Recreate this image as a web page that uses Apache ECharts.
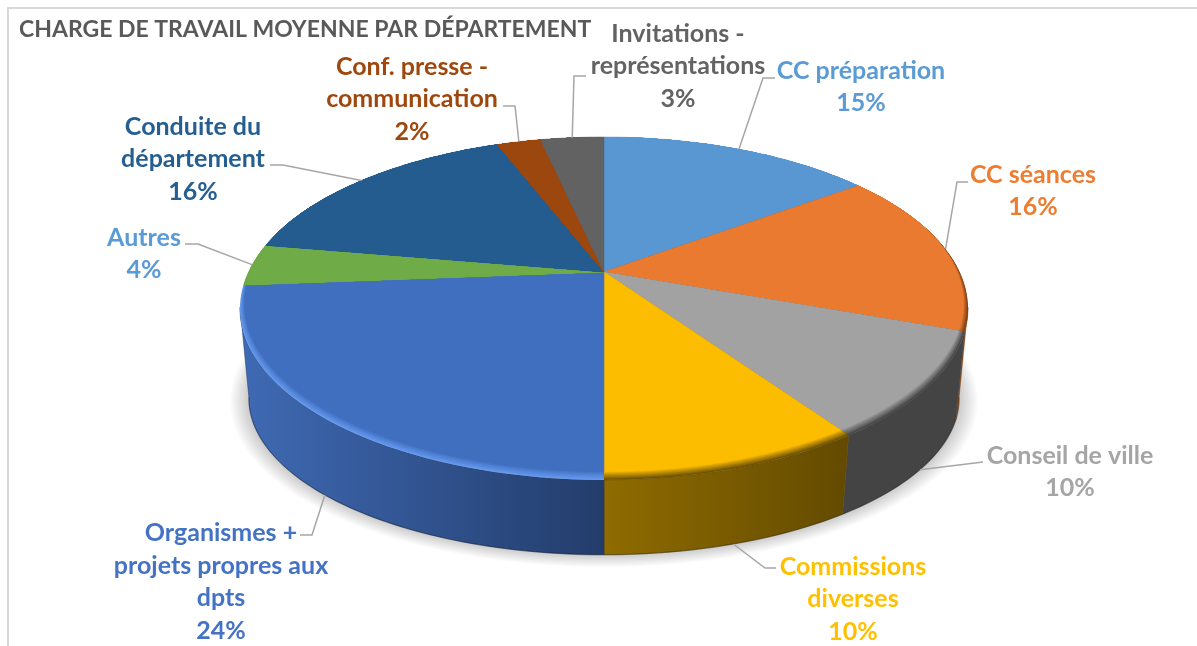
<!DOCTYPE html>
<html>
<head>
<meta charset="utf-8">
<title>Charge de travail moyenne par département</title>
<script src="https://cdn.jsdelivr.net/npm/echarts@6/dist/echarts.min.js"></script>
<style>
  html, body { margin: 0; padding: 0; background: #fff; }
  #chart { width: 1197px; height: 646px; }
</style>
</head>
<body>
<div id="chart"></div>
<script>
var chartTitle = 'CHARGE DE TRAVAIL MOYENNE PAR DÉPARTEMENT';
var categories = ['CC préparation', 'CC séances', 'Conseil de ville', 'Commissions\ndiverses',
  'Organismes +\nprojets propres aux\ndpts', 'Autres', 'Conduite du\ndépartement',
  'Conf. presse -\ncommunication', 'Invitations -\nreprésentations'];
// shares, the labels show them rounded
var values = [14.9, 15.6, 9.9, 9.6, 23.75, 3.95, 16.45, 2.4, 3.45];

var topColors = ['#5997d3', '#e97a2f', '#a2a2a2', '#fcbd00', '#416fbf', '#6fab46', '#255c8f', '#9c470e', '#626262'];
var labelColors = ['#5b9bd5', '#ed7d31', '#a5a5a5', '#ffc000', '#4472c4', '#5b9bd5', '#255e91', '#9e480e', '#636363'];
var rimColors = ['#5997d3', '#7a3f14', '#444444', '#6b5000', '#659af0', '#6fab46', '#255c8f', '#9c470e', '#626262'];
var wallFrom = ['#3a6a95', '#8a4a1a', '#444444', '#8f6c00', '#3f6ab4', '#4a7a30', '#1c4a70', '#6e320a', '#444444'];
var wallTo = ['#3a6a95', '#8a4a1a', '#444444', '#634a00', '#233c6b', '#4a7a30', '#1c4a70', '#6e320a', '#444444'];
// label centre, elbow of the leader line, and which rim the line lands on
var labelPos = [[861, 87], [1033, 191], [1070, 472], [853, 599], [221, 582], [144, 254], [193, 159], [412, 99], [678, 66]];
var elbows = [[[775, 78], [763, 78]], [[968, 182], [957, 182]], [[983, 462]], [[776, 568], [765, 568]],
  [[300, 535], [312, 535]], [[185, 244], [198, 244]], [[270, 165], [283, 165]], [[503, 106], [515, 106]], [[586, 76], [574, 76]]];
var onBottomRim = [false, false, true, true, true, false, false, false, false];

// perspective of the disc
var CX = 604, TOP_Y = 272, BOTTOM_Y = 365, P = 0.2126;
var TOP_A = 163.7, TOP_B = 355.7, BOTTOM_A = 149.4, BOTTOM_B = 347;
// the side wall only shows between the two tangents of the outline
var WALL_FROM = 28.3, WALL_TO = 71.7;

function project(share, r, bottom){
  var a = share / 100 * Math.PI * 2;
  var u = Math.sin(a) * r, v = Math.cos(a) * r, w = 1 + P * v;
  return [CX + (bottom ? BOTTOM_B : TOP_B) * u / w, (bottom ? BOTTOM_Y : TOP_Y) - (bottom ? BOTTOM_A : TOP_A) * v / w];
}
function arc(from, to, r, bottom){
  var pts = [], n = Math.max(4, Math.ceil((to - from) * 3));
  for(var i = 0; i <= n; i++){
    pts.push(project(from + (to - from) * i / n, r, bottom));
  }
  return pts;
}
// how much of the rounded edge shows at this angle
function bevelAt(share){
  var v = Math.cos(share / 100 * Math.PI * 2);
  return Math.max(0, Math.min(1, (0.3 - v) / 1.3));
}
function hex(c){ return [1, 3, 5].map(function(i){ return parseInt(c.substr(i, 2), 16); }); }
function mix(c1, c2, t){
  var a = hex(c1), b = hex(c2);
  return 'rgb(' + a.map(function(x, i){ return Math.round(x + (b[i] - x) * t); }).join(',') + ')';
}

var starts = [], sum = 0;
values.forEach(function(v){ starts.push(sum); sum += v; });
var total = sum;
function shareOf(i){ return values[i] / total * 100; }
function startOf(i){ return starts[i] / total * 100; }

function renderWall(params, api){
  var i = api.value(0), from = startOf(i), to = from + shareOf(i), children = [];
  if(i === 0){
    // soft shadow under the disc, stacked thin layers
    for(var k = 10; k >= 1; k--){
      children.push({
        type: 'polygon',
        shape: { points: arc(0, 100, 1 + k * 0.005, true) },
        style: { fill: 'rgba(0,0,0,0.018)' }
      });
    }
  }
  from = Math.max(from, WALL_FROM);
  to = Math.min(to, WALL_TO);
  if(from < to){
    var top = arc(from, to, 1, false), bottom = arc(from, to, 1, true);
    children.push({
      type: 'polygon',
      shape: { points: top.concat(bottom.slice().reverse()) },
      style: {
        fill: new echarts.graphic.LinearGradient(0, 0, 1, 0, [
          { offset: 0, color: wallFrom[i] }, { offset: 1, color: wallTo[i] }
        ]),
        stroke: wallTo[i], lineWidth: 0.5
      }
    }, {
      type: 'polyline',
      shape: { points: bottom },
      style: { fill: 'none', stroke: 'rgba(0,0,0,0.25)', lineWidth: 1.2 }
    });
  }
  return { type: 'group', children: children };
}

function renderTop(params, api){
  var i = api.value(0), from = startOf(i), to = from + shareOf(i), steps = 10, n = 40;
  var children = [];
  // fans from the outer edge inwards, so the edge fades without seams
  for(var k = 0; k <= steps; k++){
    var pts = [project(0, 0, false)];
    for(var j = 0; j <= n; j++){
      var s = from + (to - from) * j / n;
      pts.push(project(s, 1 - bevelAt(s) * 0.032 * k / steps, false));
    }
    var col = mix(rimColors[i], topColors[i], k / steps);
    children.push({
      type: 'polygon',
      shape: { points: pts },
      style: { fill: col, stroke: k === steps ? col : null, lineWidth: 0.5 }
    });
  }
  return { type: 'group', children: children };
}

function renderLabel(params, api){
  var i = api.value(0), mid = startOf(i) + shareOf(i) / 2;
  var pts = elbows[i].concat([project(mid, 1, onBottomRim[i])]);
  return {
    type: 'group',
    children: [{
      type: 'polyline',
      shape: { points: pts },
      style: { fill: 'none', stroke: '#a6a6a6', lineWidth: 1.5 }
    }, {
      type: 'text',
      x: labelPos[i][0],
      y: labelPos[i][1],
      style: {
        text: categories[i] + '\n' + Math.round(values[i]) + '%',
        fill: labelColors[i],
        font: 'bold 25px Lato',
        lineHeight: 32.5,
        align: 'center',
        verticalAlign: 'middle'
      }
    }]
  };
}

var seriesData = values.map(function(v, i){ return [i, v]; });
var myChart = echarts.init(document.getElementById('chart'), null, { renderer: 'canvas' });
myChart.setOption({
  animation: false,
  backgroundColor: '#fff',
  tooltip: { show: false },
  title: {
    text: chartTitle,
    left: 19,
    top: 18,
    padding: 0,
    textStyle: { fontFamily: 'Lato', fontWeight: 'bold', fontSize: 23, color: '#595959' }
  },
  graphic: [{
    type: 'polyline',
    silent: true,
    shape: { points: [[8, 646], [8, 8], [1197, 8]] },
    style: { fill: 'none', stroke: '#d9d9d9', lineWidth: 2 }
  }],
  series: [
    { type: 'custom', coordinateSystem: 'none', data: seriesData, renderItem: renderWall, z: 2 },
    { type: 'custom', coordinateSystem: 'none', data: seriesData, renderItem: renderTop, z: 3 },
    { type: 'custom', coordinateSystem: 'none', data: seriesData, renderItem: renderLabel, z: 4 }
  ]
});
</script>
</body>
</html>
